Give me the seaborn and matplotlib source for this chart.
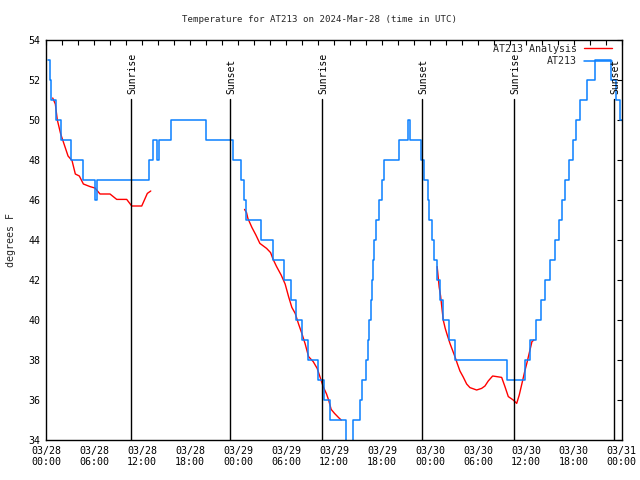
import numpy as np
import pandas as pd
import matplotlib
matplotlib.use("Agg")
import matplotlib.pyplot as plt
from matplotlib.lines import Line2D
import seaborn as sns

# ---------------- data ----------------
title = "Temperature for AT213 on 2024-Mar-28 (time in UTC)"
ylabel = "degrees F"
series_obs = "AT213"
series_an = "AT213 Analysis"

xtick_hours = [0, 6, 12, 18, 24, 30, 36, 42, 48, 54, 60, 66, 72]
xtick_labels = ["03/28\n00:00", "03/28\n06:00", "03/28\n12:00", "03/28\n18:00",
                "03/29\n00:00", "03/29\n06:00", "03/29\n12:00", "03/29\n18:00",
                "03/30\n00:00", "03/30\n06:00", "03/30\n12:00", "03/30\n18:00",
                "03/31\n00:00"]
ytick_values = [34, 36, 38, 40, 42, 44, 46, 48, 50, 52, 54]

# observed station temperature (step changes): hours since 03/28 00:00 UTC
obs_hours = [0.25, 0.42, 0.6, 1.25, 1.9, 3.1, 4.6, 6.15, 6.35, 12.9, 13.4, 13.8, 14.1,
             15.6, 20.0, 23.4, 24.3, 24.7, 25.0, 26.8, 28.3, 29.8, 30.6, 31.3, 32.0,
             32.8, 34.0, 34.8, 35.5, 37.5, 38.4, 39.3, 39.5, 40.0, 40.3, 40.4, 40.6,
             40.8, 40.9, 41.0, 41.3, 41.6, 42.0, 42.3, 44.1, 45.3, 45.5, 46.85, 47.3,
             47.7, 47.85, 48.2, 48.5, 48.85, 49.3, 49.6, 50.35, 51.1, 57.6, 59.9, 60.5,
             61.25, 61.85, 62.4, 63.0, 63.7, 64.2, 64.5, 64.9, 65.4, 65.9, 66.3, 66.8,
             67.6, 68.6, 70.7, 71.3, 71.8, 72.0]
obs_temps = [53, 52, 51, 50, 49, 48, 47, 46, 47, 48, 49, 48, 49,
             50, 49, 48, 47, 46, 45, 44, 43, 42, 41, 40, 39,
             38, 37, 36, 35, 33, 35, 36, 37, 38, 39, 40, 41,
             42, 43, 44, 45, 46, 47, 48, 49, 50, 49, 48, 47,
             46, 45, 44, 43, 42, 41, 40, 39, 38, 37, 38, 39,
             40, 41, 42, 43, 44, 45, 46, 47, 48, 49, 50, 51,
             52, 53, 52, 51, 50, 50]

# analysis temperature, three separate segments
an1_hours = [0.8, 1.13, 1.38, 1.8, 2.22, 2.72, 3.22, 3.63, 4.13, 4.64, 5.47, 6.09,
             6.72, 7.97, 8.81, 10.06, 10.69, 11.94, 12.64, 13.07]
an1_temps = [51.1, 50.8, 50.0, 49.3, 48.8, 48.2, 47.97, 47.3, 47.2, 46.8, 46.67, 46.6,
             46.3, 46.3, 46.03, 46.03, 45.7, 45.7, 46.33, 46.45]

an2_hours = [24.8, 25.05, 25.22, 25.72, 26.22, 26.72, 27.56, 28.06, 28.38, 28.81,
             29.38, 29.88, 30.31, 30.72, 31.14, 31.56, 31.97, 32.39, 32.81, 33.39,
             33.89, 34.23, 34.64, 35.06, 35.32, 35.64, 36.06, 36.57, 36.89]
an2_temps = [45.53, 45.37, 45.08, 44.63, 44.25, 43.83, 43.58, 43.37, 43.03, 42.67,
             42.25, 41.8, 41.17, 40.63, 40.33, 39.8, 39.33, 38.8, 38.17, 37.92,
             37.58, 37.17, 36.67, 36.3, 36.0, 35.53, 35.33, 35.12, 35.0]

an3_hours = [48.9, 49.15, 49.33, 49.66, 49.91, 50.16, 50.5, 50.84, 51.16, 51.41,
             51.75, 52.16, 52.59, 53.0, 53.84, 54.46, 54.88, 55.29, 55.84, 56.34,
             56.97, 57.38, 57.8, 58.42, 58.85, 59.17, 59.51, 59.85, 60.17, 60.51,
             60.76, 61.01]
an3_temps = [42.67, 41.65, 41.2, 40.0, 39.58, 39.25, 38.83, 38.47, 38.13, 37.83,
             37.45, 37.15, 36.8, 36.62, 36.5, 36.58, 36.7, 36.95, 37.2, 37.17,
             37.13, 36.67, 36.17, 36.0, 35.83, 36.25, 36.83, 37.42, 37.92, 38.5,
             38.92, 39.0]

sun_hours = [10.6, 23.0, 34.53, 47.04, 58.55, 71.06]
sun_labels = ["Sunrise", "Sunset", "Sunrise", "Sunset", "Sunrise", "Sunset"]

# ---------------- plotting ----------------
sns.set_style("white")
FONT = "DejaVu Sans Mono"
plt.rcParams["font.family"] = [FONT]
plt.rcParams["font.size"] = 7.0

fig = plt.figure(figsize=(6.4, 4.8), dpi=100)
ax = fig.add_axes([46.3 / 640, 1 - 440 / 480, (621.8 - 46.3) / 640, 400 / 480])

RED = "#ff0000"
BLUE = "#0a80ff"

an_df = pd.DataFrame({
    "hours": an1_hours + an2_hours + an3_hours,
    "temp": an1_temps + an2_temps + an3_temps,
    "seg": [1] * len(an1_hours) + [2] * len(an2_hours) + [3] * len(an3_hours),
})
obs_df = pd.DataFrame({"hours": obs_hours, "temp": obs_temps})

sns.lineplot(data=an_df, x="hours", y="temp", units="seg", estimator=None,
             color=RED, linewidth=1.0, ax=ax, legend=False, sort=False)
sns.lineplot(data=obs_df, x="hours", y="temp", estimator=None, color=BLUE,
             linewidth=1.1, drawstyle="steps-post", ax=ax, legend=False, sort=False)

for h, lab in zip(sun_hours, sun_labels):
    ax.plot([h, h], [34, 51.05], color="black", linewidth=1.0, zorder=3)
    ax.text(h + 0.15, 51.3, lab, rotation=90, ha="center", va="bottom",
            fontsize=7.0, color="black")

ax.set_xlim(0, 72)
ax.set_ylim(34, 54)
ax.set_xticks(xtick_hours)
ax.set_xticklabels(xtick_labels)
ax.set_xticks(np.arange(0, 73, 2), minor=True)
ax.set_yticks(ytick_values)
ax.set_yticklabels([str(v) for v in ytick_values])
ax.tick_params(axis="both", which="both", direction="in", top=True, right=True,
               length=3.5, width=0.8, labelsize=7.2, colors="black", pad=4)
ax.tick_params(axis="x", which="minor", length=3.5)
ax.set_xlabel("")
ax.set_ylabel(ylabel, fontsize=7.2)
ax.yaxis.set_label_coords(-0.053, 0.5)
for s in ax.spines.values():
    s.set_color("black")
    s.set_linewidth(1.0)
    s.set_visible(True)

fig.text(0.5, 1 - 20 / 480, title, ha="center", va="center", fontsize=6.6)

handles = [Line2D([], [], color=RED, linewidth=1.0),
           Line2D([], [], color=BLUE, linewidth=1.1)]
leg = ax.legend(handles, [series_an, series_obs], loc="upper right",
                frameon=False, markerfirst=False, handlelength=2.8,
                handletextpad=0.7, labelspacing=0.25, fontsize=7.2,
                borderaxespad=0.0, bbox_to_anchor=(0.99, 1.0))

fig.savefig("out.png", dpi=100)
